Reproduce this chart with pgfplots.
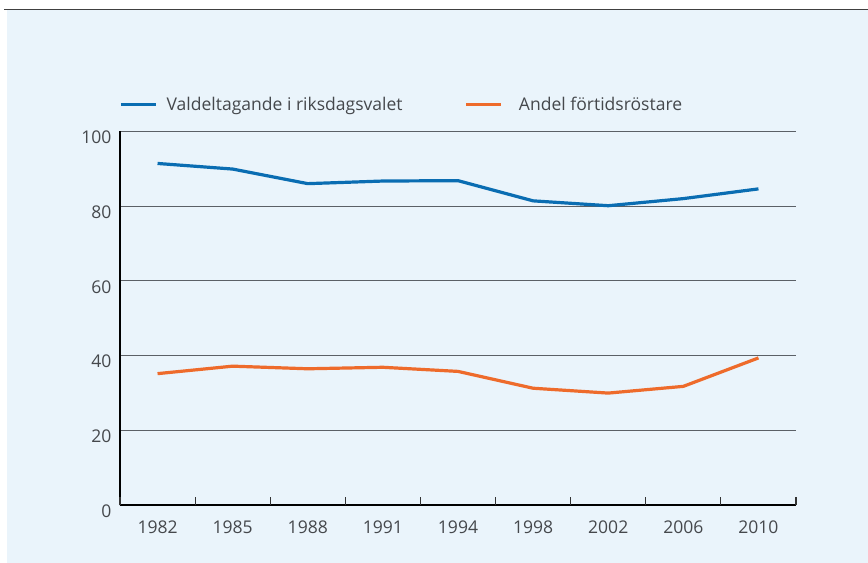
\documentclass[border=0pt]{standalone}
\usepackage{pgfplots}
\pgfplotsset{compat=1.18}
\usepackage{fontspec}
\setmainfont{Open Sans}
\definecolor{bg}{HTML}{EAF4FB}
\definecolor{vblue}{HTML}{0A6DB2}
\definecolor{vorange}{HTML}{EE6B2B}
\definecolor{gridc}{HTML}{5B6066}
\definecolor{txt}{HTML}{45484C}
\begin{document}
\begin{tikzpicture}[x=1bp,y=1bp]
\useasboundingbox (0,0) rectangle (868,563);
\fill[white] (0,0) rectangle (868,563);
\fill[bg] (7,0) rectangle (868,553);
\draw[line width=1.6bp, black!75] (4,553.5) -- (868,553.5);
\begin{axis}[
  at={(120bp,57.7bp)}, anchor=south west,
  scale only axis, width=676bp, height=374bp,
  xmin=-0.5, xmax=8.5, ymin=0, ymax=100,
  axis x line=bottom, axis y line=left,
  axis line style={-, black, line width=1.6bp},
  xtick={0,...,8},
  xticklabels={1982,1985,1988,1991,1994,1998,2002,2006,2010},
  major tick length=0pt,
  xtick align=inside,
  extra x ticks={-0.5,0.5,1.5,2.5,3.5,4.5,5.5,6.5,7.5,8.5},
  extra x tick labels={},
  extra x tick style={major tick length=8bp, xtick align=inside, tick style={black!80, line width=1.1bp}},
  ytick={0,20,...,100},
  ytick style={draw=none},
  ymajorgrids, grid style={gridc, line width=1bp},
  tick label style={font=\fontsize{17.6}{20}\selectfont, text=txt},
  /pgf/number format/assume math mode=true,
  yticklabel style={xshift=-5bp, yshift=-6bp},
  xticklabel style={yshift=-12bp},
  legend style={at={(0,1)}, anchor=west, xshift=-4bp, yshift=27bp, draw=none, fill=none,
    font=\fontsize{17.6}{20}\selectfont, text=txt},
  legend columns=2,
  legend cell align=left,
  /tikz/every even column/.append style={column sep=60bp},
  legend image code/.code={\draw[#1, line width=3.5bp] (0bp,0bp) -- (35bp,0bp); \path (42bp,0bp);},
]
\addplot[vblue, line width=3.2bp, line join=round] coordinates {
  (0,91.4) (1,89.9) (2,86.0) (3,86.7) (4,86.8) (5,81.4) (6,80.1) (7,82.0) (8,84.6)};
\addlegendentry{Valdeltagande i riksdagsvalet}
\addplot[vorange, line width=3.2bp, line join=round] coordinates {
  (0,35.2) (1,37.2) (2,36.5) (3,36.9) (4,35.8) (5,31.3) (6,30.0) (7,31.8) (8,39.4)};
\addlegendentry{\hspace{7bp}Andel förtidsröstare}
\end{axis}
\end{tikzpicture}
\end{document}
